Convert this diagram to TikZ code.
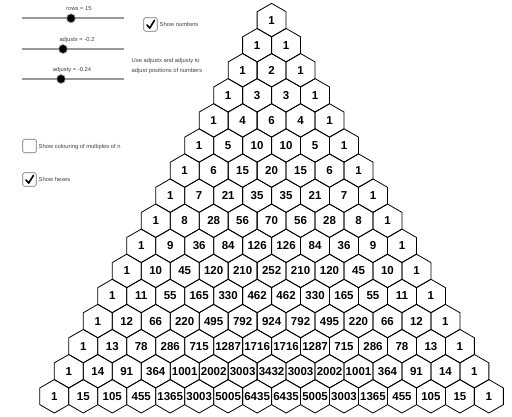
\documentclass[tikz,border=0pt]{standalone}
\usepackage{fontspec}
\setmainfont{Liberation Sans}
\usetikzlibrary{shapes.geometric}
\begin{document}
\begin{tikzpicture}[x=1pt,y=-1pt,
  hexcell/.style={draw=black,line width=0.8pt,regular polygon,regular polygon sides=6,
    shape border rotate=30,minimum size=33.44pt,inner sep=0pt},
  num/.style={font=\bfseries\fontsize{11.5}{12}\selectfont,inner sep=0pt},
  ui/.style={font=\fontsize{5.8}{7}\selectfont,text=black!75,inner sep=0pt},
  track/.style={draw=black!40,line width=2pt},
  knob/.style={circle,fill=black,draw=black!35,line width=0.8pt,minimum size=9pt,inner sep=0pt},
  cbox/.style={draw=black!55,line width=0.6pt,rounded corners=1.5pt,minimum size=13.5pt,inner sep=0pt,fill=white},
  tick/.style={line width=1.6pt,line cap=round,line join=round}]
\useasboundingbox (0,0) rectangle (512,416);

% sliders
\coordinate (s1a) at (22,18.3); \coordinate (s1b) at (124,18.3);
\coordinate (s2a) at (22,49); \coordinate (s2b) at (124,49);
\coordinate (s3a) at (22,79); \coordinate (s3b) at (124,79);
\draw[track] (s1a) -- (s1b);
\draw[track] (s2a) -- (s2b);
\draw[track] (s3a) -- (s3b);
\node[knob] (k1) at (71,18.3) {};
\node[knob] (k2) at (63,49) {};
\node[knob] (k3) at (61,79) {};
\node[ui] (l1) at (79,9) {rows = 15};
\node[ui] (l2) at (77,39.5) {adjustx = -0.2};
\node[ui] (l3) at (72,69.5) {adjusty = -0.24};

% checkboxes
\node[cbox] (cb1) at (150.5,24.5) {};
\draw[tick] ([shift={(-3.5,0.5)}]cb1.center) -- ([shift={(-0.8,3.6)}]cb1.center) -- ([shift={(4,-4.2)}]cb1.center);
\node[ui,anchor=west] (t1) at (159.5,24.5) {Show numbers};
\node[ui,anchor=west] (t2) at (131.5,61) {Use adjustx and adjusty to};
\node[ui,anchor=west] (t3) at (131.5,70.5) {adjust positions of numbers};

\node[cbox] (cb2) at (29.5,146) {};
\node[ui,anchor=west] (t4) at (38.5,146.5) {Show colouring of multiples of n};

\node[cbox] (cb3) at (29.5,179.5) {};
\draw[tick] ([shift={(-3.5,0.5)}]cb3.center) -- ([shift={(-0.8,3.6)}]cb3.center) -- ([shift={(4,-4.2)}]cb3.center);
\node[ui,anchor=west] (t5) at (38.5,179.5) {Show hexes};

% Pascal triangle
\foreach \row [count=\n from 0] in {
  {1},{1,1},{1,2,1},{1,3,3,1},{1,4,6,4,1},{1,5,10,10,5,1},{1,6,15,20,15,6,1},
  {1,7,21,35,35,21,7,1},{1,8,28,56,70,56,28,8,1},{1,9,36,84,126,126,84,36,9,1},
  {1,10,45,120,210,252,210,120,45,10,1},{1,11,55,165,330,462,462,330,165,55,11,1},
  {1,12,66,220,495,792,924,792,495,220,66,12,1},
  {1,13,78,286,715,1287,1716,1716,1287,715,286,78,13,1},
  {1,14,91,364,1001,2002,3003,3432,3003,2002,1001,364,91,14,1},
  {1,15,105,455,1365,3003,5005,6435,6435,5005,3003,1365,455,105,15,1}} {
  \foreach \v [count=\k from 0] in \row {
    \pgfmathsetmacro{\xx}{271.6+(\k-\n/2)*28.97}
    \pgfmathsetmacro{\yy}{20.1+\n*25.08}
    \node[hexcell] (h-\n-\k) at (\xx,\yy) {};
    \node[num] (n-\n-\k) at (h-\n-\k) {\v};
  }
}
\end{tikzpicture}
\end{document}
